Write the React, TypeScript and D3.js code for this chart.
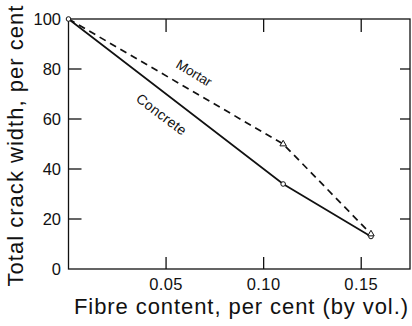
import React from "react";
import * as d3 from "d3";

const concreteX = [0, 0.11, 0.155];
const concreteY = [100, 34, 13];
const mortarX = [0, 0.11, 0.155];
const mortarY = [100, 50, 14];
const xTicks = [0.05, 0.1, 0.15];
const xTickLabels = ["0.05", "0.10", "0.15"];
const yTicks = [0, 20, 40, 60, 80, 100];

export default function App() {
  const W = 412, H = 326;
  const x = d3.scaleLinear().domain([0, 0.175]).range([68.5, 410]);
  const y = d3.scaleLinear().domain([0, 100]).range([269, 19]);
  const line = d3.line<[number, number]>().x(d => x(d[0])).y(d => y(d[1]));
  const concrete = concreteX.map((v, i) => [v, concreteY[i]] as [number, number]);
  const mortar = mortarX.map((v, i) => [v, mortarY[i]] as [number, number]);
  const font = "'Liberation Sans', Arial, Helvetica, sans-serif";
  return (
    <svg width={W} height={H} style={{ position: "absolute", left: 0, top: 0 }} fontFamily={font}>
      <rect x={0} y={0} width={W} height={H} fill="#fff" />
      <rect x={x(0)} y={y(100)} width={x(0.175) - x(0)} height={y(0) - y(100)} fill="none" stroke="#111" strokeWidth={1.3} />
      {xTicks.map(t => (
        <g key={t}>
          <line x1={x(t)} x2={x(t)} y1={y(0)} y2={y(0) - 12} stroke="#111" strokeWidth={1.3} />
          <line x1={x(t)} x2={x(t)} y1={y(100)} y2={y(100) + 13} stroke="#111" strokeWidth={1.3} />
        </g>
      ))}
      {yTicks.filter(t => t > 0 && t < 100).map(t => (
        <g key={t}>
          <line x1={x(0)} x2={x(0) + 13} y1={y(t)} y2={y(t)} stroke="#111" strokeWidth={1.3} />
          <line x1={x(0.175)} x2={x(0.175) - 10} y1={y(t)} y2={y(t)} stroke="#111" strokeWidth={1.3} />
        </g>
      ))}
      {yTicks.map(t => (
        <text key={t} x={61} y={y(t) + 6} textAnchor="end" fontSize={16.5} fill="#111">{t}</text>
      ))}
      {xTicks.map((t, i) => (
        <text key={t} x={x(t)} y={289.5} textAnchor="middle" fontSize={16.5} letterSpacing={0.4} fill="#111">{xTickLabels[i]}</text>
      ))}
      <path d={line(mortar) || ""} fill="none" stroke="#111" strokeWidth={1.7} strokeDasharray="7,5" />
      <path d={line(concrete) || ""} fill="none" stroke="#111" strokeWidth={1.7} />
      {concrete.map((d, i) => (
        <circle key={"c" + i} cx={x(d[0])} cy={y(d[1])} r={2.3} fill="#fff" stroke="#111" strokeWidth={1} />
      ))}
      {mortar.slice(1).map((d, i) => (
        <path key={"m" + i} d={d3.symbol(d3.symbolTriangle, 18)() || ""} transform={`translate(${x(d[0])},${y(d[1])})`} fill="#fff" stroke="#111" strokeWidth={1} />
      ))}
      <text x={0} y={0} fontSize={13.5} fill="#111" transform={`translate(175,67) rotate(31)`}>Mortar</text>
      <text x={0} y={0} fontSize={14} letterSpacing={0.3} fill="#111" transform={`translate(135,100.5) rotate(37)`}>Concrete</text>
      <text x={0} y={0} fontSize={22} fill="#111" textAnchor="middle" textLength={281} lengthAdjust="spacing" transform={`translate(23,146) rotate(-90)`}>Total crack width, per cent</text>
      <text x={241} y={314} fontSize={22} fill="#111" textAnchor="middle" textLength={334} lengthAdjust="spacing">Fibre content, per cent (by vol.)</text>
    </svg>
  );
}
